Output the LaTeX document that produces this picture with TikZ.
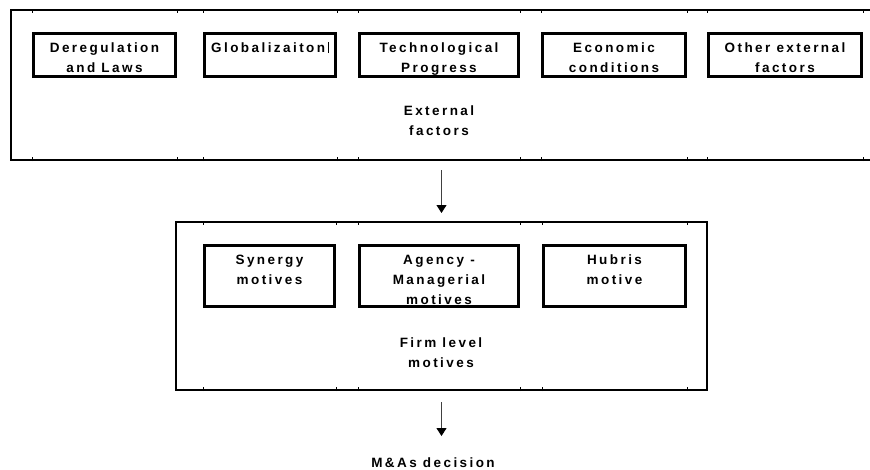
\documentclass[tikz,border=0pt]{standalone}
\usepackage{fontspec}
\newfontfamily\diagfont{Liberation Sans}[LetterSpace=18]
\usetikzlibrary{positioning,arrows.meta}
\newcommand{\boxtext}[2]{\parbox[c][#1][t]{128pt}{\centering\vspace*{4.5pt}\strut #2}}

\begin{document}
\begin{tikzpicture}[x=1pt,y=-1pt,>={Triangle[length=8pt,width=10pt,color=black]},
  font=\diagfont\bfseries\fontsize{13.5pt}{20pt}\selectfont,
  factor/.style={draw,line width=3pt,inner sep=0pt,minimum height=43pt},
  motive/.style={factor,minimum height=61pt},
  frame/.style={draw,line width=2pt,inner sep=0pt,anchor=north west},
  flow/.style={->,line width=1pt,black!75},
  tick/.style={line width=1pt}]
\useasboundingbox (0,0) rectangle (870,469);

% external factors
\node (ext) [frame,minimum width=862pt,minimum height=150pt] at (10,9) {};
\node (dereg) [factor,minimum width=142pt,anchor=north west] at (32,32) {\boxtext{43pt}{Deregulation\\and Laws}};
\node (glob) [factor,minimum width=131pt,right=26pt of dereg] {\boxtext{43pt}{Globalizaiton\hspace{3pt}\rule[-1pt]{0.7pt}{11pt}}};
\node (tech) [factor,minimum width=159pt,right=21pt of glob] {\boxtext{43pt}{Technological\\Progress}};
\node (econ) [factor,minimum width=143pt,right=21pt of tech] {\boxtext{43pt}{Economic\\conditions}};
\node (other) [factor,minimum width=153pt,right=20pt of econ] {\boxtext{43pt}{Other external\\factors}};
\node (extlab) [anchor=north,inner sep=0pt] at (439,96.5) {\boxtext{40pt}{External\\factors}};

% firm level motives
\node (firm) [frame,minimum width=531pt,minimum height=168pt] at (175,221) {};
\node (syn) [motive,minimum width=130pt,anchor=north west] at (203,244) {\boxtext{61pt}{Synergy\\motives}};
\node (agency) [motive,minimum width=159pt,right=22pt of syn] {\boxtext{61pt}{Agency -\\Managerial\\motives}};
\node (hubris) [motive,minimum width=142pt,right=22pt of agency] {\boxtext{61pt}{Hubris\\motive}};
\node (firmlab) [anchor=north,inner sep=0pt] at (441,328.5) {\boxtext{40pt}{Firm level\\motives}};

\node (decision) [anchor=base,inner sep=0pt] at (433,467) {M\&As decision};

% small marks on the frames
\foreach \b in {dereg,glob,tech,econ,other}
  \foreach \s in {west,east} {
    \draw[tick] (ext.north -| \b.\s) -- ++(0,4);
    \draw[tick] (ext.south -| \b.\s) -- ++(0,-4);
  }
\foreach \b in {syn,agency,hubris}
  \foreach \s in {west,east} {
    \draw[tick] (firm.north -| \b.\s) -- ++(0,4);
    \draw[tick] (firm.south -| \b.\s) -- ++(0,-4);
  }

\draw[flow] ([yshift=-9pt]ext.south -| firm.north) -- ([yshift=8pt]firm.north);
\draw[flow] ([yshift=-11pt]firm.south) -- ([yshift=21pt]decision.north -| firm.south);
\end{tikzpicture}
\end{document}
